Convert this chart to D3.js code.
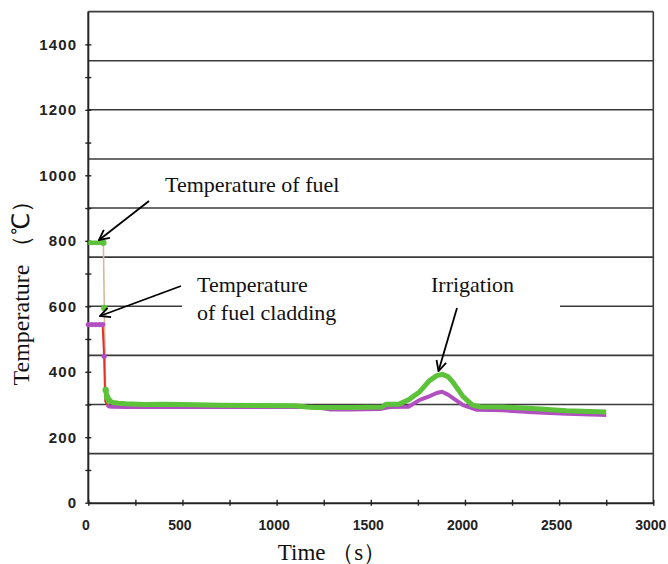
<!DOCTYPE html>
<html>
<head>
<meta charset="utf-8">
<script src="https://cdn.jsdelivr.net/npm/d3@7"></script>
<style>
  html, body { margin: 0; padding: 0; background: #fff; }
  svg { display: block; }
</style>
</head>
<body>
<svg id="chart" width="668" height="564"></svg>
<script>
// ---- data ----
const fuelTime = [0, 20, 40, 60, 80, 85, 92, 100, 110, 130, 160, 200, 300, 400, 500, 700, 900, 1100, 1160, 1200, 1400, 1560, 1580, 1650, 1700, 1760, 1810, 1850, 1880, 1910, 1940, 1990, 2040, 2080, 2200, 2360, 2540, 2750];
const fuelTemp = [794, 794, 794, 794, 794, 595, 344, 322, 312, 306, 304, 302, 300, 301, 300, 298, 297, 296, 292, 291, 291, 292, 301, 301, 314, 339, 372, 388, 392, 385, 365, 324, 298, 293, 292, 288, 281, 277];

const cladTime = [0, 20, 40, 60, 76, 84, 90, 100, 110, 130, 200, 400, 600, 800, 1000, 1200, 1280, 1400, 1550, 1600, 1700, 1760, 1810, 1850, 1878, 1910, 1940, 1990, 2060, 2200, 2360, 2540, 2750];
const cladTemp = [544, 544, 544, 544, 544, 447, 310, 298, 294, 293, 292, 292, 292, 292, 292, 292, 285, 285, 286, 292, 293, 314, 325, 335, 339, 330, 318, 298, 284, 282, 276, 272, 268];

const xTickValues = [0, 250, 500, 750, 1000, 1250, 1500, 1750, 2000, 2250, 2500, 2750, 3000];
const yTickValues = [0, 100, 200, 300, 400, 500, 600, 700, 800, 900, 1000, 1100, 1200, 1300, 1400];
const gridValues = [150, 300, 450, 600, 750, 900, 1050, 1200, 1350];

const labels = {
  fuel: "Temperature of fuel",
  clad1: "Temperature",
  clad2: "of fuel cladding",
  irrigation: "Irrigation",
  yTitle: "Temperature （℃）",
  xTitle: "Time （s）"
};

// ---- layout ----
const svg = d3.select("#chart");
const x0 = 88.3, x1 = 653.3, yBottom = 502.7, yTop = 11.6;
const x = d3.scaleLinear().domain([0, 3000]).range([x0, x1]);
const y = d3.scaleLinear().domain([0, 1500]).range([yBottom, yTop]);

const gridColor = "#3a3a3a";
const serif = "'Liberation Serif', 'Times New Roman', serif";

// grid lines
svg.append("g").selectAll("line").data(gridValues).join("line")
  .attr("x1", x0).attr("x2", x1)
  .attr("y1", d => y(d)).attr("y2", d => y(d))
  .attr("stroke", gridColor).attr("stroke-width", 1.6);

// top & right border
svg.append("line").attr("x1", x0).attr("x2", x1).attr("y1", y(1500)).attr("y2", y(1500))
  .attr("stroke", gridColor).attr("stroke-width", 1.6);
svg.append("line").attr("x1", x1).attr("x2", x1).attr("y1", y(1500)).attr("y2", y(0))
  .attr("stroke", gridColor).attr("stroke-width", 1.6);

// white label background box (occludes grid)
svg.append("rect").attr("x", 182).attr("y", 268).attr("width", 378).attr("height", 62).attr("fill", "#fff");

// axes
const yAxis = d3.axisLeft(y).tickValues(yTickValues).tickSize(3).tickSizeOuter(0).tickPadding(8)
  .tickFormat(d => d % 200 === 0 ? d : "");
const gy = svg.append("g").attr("transform", `translate(${x0},0)`).call(yAxis);
gy.selectAll(".tick line").attr("x1", 3).attr("stroke", "#222").attr("stroke-width", 1.4);
gy.select(".domain").attr("stroke", "#222").attr("stroke-width", 2)
  .attr("d", `M0,${y(1500)}V${y(0)}`);
gy.selectAll("text").attr("font-family", "'Liberation Sans', Arial, sans-serif")
  .attr("font-weight", "bold").attr("font-size", 15).attr("letter-spacing", 1.2).attr("fill", "#222");

const xAxis = d3.axisBottom(x).tickValues(xTickValues).tickSize(3).tickSizeOuter(0).tickPadding(14)
  .tickFormat(d => d % 500 === 0 ? d : "");
const gx = svg.append("g").attr("transform", `translate(0,${yBottom})`).call(xAxis);
gx.selectAll(".tick line").attr("y1", -3).attr("stroke", "#222").attr("stroke-width", 1.4);
gx.select(".domain").attr("stroke", "#222").attr("stroke-width", 2);
gx.selectAll("text").attr("font-family", "'Liberation Sans', Arial, sans-serif")
  .attr("font-weight", "bold").attr("font-size", 14).attr("dx", -3).attr("fill", "#222");

// ---- series ----
const fuel = fuelTime.map((t, i) => ({t, v: fuelTemp[i]}));
const clad = cladTime.map((t, i) => ({t, v: cladTemp[i]}));
const line = d3.line().x(d => x(d.t)).y(d => y(d.v));

const green = "#5cc23a", purple = "#b050c0", tan = "#d6b89a", red = "#e2302a";

// drop connectors
svg.append("path").attr("d", line(fuel.filter(d => d.t >= 80 && d.t <= 92)))
  .attr("fill", "none").attr("stroke", tan).attr("stroke-width", 1.6);
svg.append("path").attr("d", line(clad.filter(d => d.t >= 76 && d.t <= 100)))
  .attr("fill", "none").attr("stroke", red).attr("stroke-width", 2);

// cladding series (purple)
svg.append("path").attr("d", line(clad.filter(d => d.t <= 76)))
  .attr("fill", "none").attr("stroke", purple).attr("stroke-width", 3.5);
svg.append("path").attr("d", line(clad.filter(d => d.t >= 100)))
  .attr("fill", "none").attr("stroke", purple).attr("stroke-width", 4).attr("stroke-linejoin", "round");
svg.append("g").selectAll("circle").data(clad.filter(d => d.t <= 84)).join("circle")
  .attr("cx", d => x(d.t)).attr("cy", d => y(d.v)).attr("r", 2.6).attr("fill", purple);

// fuel series (green)
svg.append("path").attr("d", line(fuel.filter(d => d.t <= 80)))
  .attr("fill", "none").attr("stroke", green).attr("stroke-width", 4.5);
svg.append("path").attr("d", line(fuel.filter(d => d.t >= 92)))
  .attr("fill", "none").attr("stroke", green).attr("stroke-width", 5).attr("stroke-linejoin", "round");
svg.append("g").selectAll("circle").data(fuel.filter(d => d.t >= 80 && d.t <= 110)).join("circle")
  .attr("cx", d => x(d.t)).attr("cy", d => y(d.v)).attr("r", 3.2).attr("fill", green);

// ---- annotations ----
const defs = svg.append("defs");
defs.append("marker").attr("id", "arrow").attr("viewBox", "0 0 12 12")
  .attr("refX", 11).attr("refY", 6).attr("markerWidth", 12).attr("markerHeight", 12)
  .attr("markerUnits", "userSpaceOnUse").attr("orient", "auto")
  .append("path").attr("d", "M1,1 L11,6 L1,11").attr("fill", "none")
  .attr("stroke", "#000").attr("stroke-width", 1.8);

function arrow(xa, ya, xb, yb) {
  svg.append("line").attr("x1", xa).attr("y1", ya).attr("x2", xb).attr("y2", yb)
    .attr("stroke", "#000").attr("stroke-width", 1.8).attr("marker-end", "url(#arrow)");
}
arrow(149, 201, 99, 240);
arrow(181, 286, 100, 316);
arrow(457, 308, 438.5, 371);

function txt(s, tx, ty, size) {
  svg.append("text").attr("x", tx).attr("y", ty).text(s)
    .attr("font-family", serif).attr("font-size", size).attr("fill", "#111");
}
txt(labels.fuel, 165, 192, 22);
txt(labels.clad1, 197, 292, 22);
txt(labels.clad2, 197, 320, 22);
txt(labels.irrigation, 431, 292, 22);

svg.append("text").attr("transform", `translate(29,287) rotate(-90)`)
  .attr("text-anchor", "middle").text(labels.yTitle)
  .attr("font-family", serif).attr("font-size", 24).attr("fill", "#111");
svg.append("text").attr("x", 332).attr("y", 560).attr("text-anchor", "middle").text(labels.xTitle)
  .attr("font-family", serif).attr("font-size", 23).attr("fill", "#111");
</script>
</body>
</html>
